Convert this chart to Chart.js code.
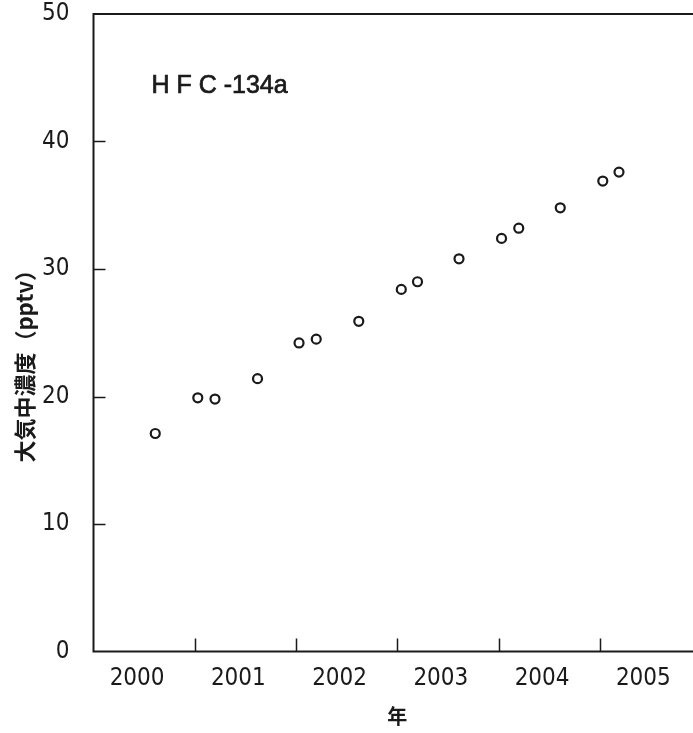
<!DOCTYPE html>
<html>
<head>
<meta charset="utf-8">
<script src="https://cdn.jsdelivr.net/npm/chart.js@4.4.1/dist/chart.umd.min.js"></script>
<style>
  html, body { margin: 0; padding: 0; background: #fff; overflow: hidden; }
  #wrap { width: 720px; height: 733px; }
</style>
</head>
<body>
<div id="wrap"><canvas id="chartHfc"></canvas></div>
<script>
// ================================
//   DATI
// ================================
const anni = [2000.61, 2001.03, 2001.20, 2001.62, 2002.03, 2002.20, 2002.62, 2003.04,
              2003.20, 2003.61, 2004.03, 2004.20, 2004.61, 2005.03, 2005.19];
const concentrazioni = [17.1, 19.9, 19.8, 21.4, 24.2, 24.5, 25.9, 28.4,
                        29.0, 30.8, 32.4, 33.2, 34.8, 36.9, 37.6];
const tickAnni = [2000, 2001, 2002, 2003, 2004, 2005];
const tickValori = [0, 10, 20, 30, 40, 50];
const titoloSerie = "H F C -134a";
const titoloY = "大気中濃度（pptv）";
const titoloX = "年";

const INK = "#1a1a1a";
const numFont = { family: "'Liberation Sans Narrow', 'DejaVu Sans Condensed', sans-serif", size: 24 };
const cjkFont = { family: "'Noto Sans CJK JP', sans-serif", size: 20, weight: "bold", lineHeight: 1.2 };

// ================================
//   CORNICE + TACCHE INTERNE + TESTI
// ================================
const framePlugin = {
  id: "frame",
  afterDraw(chart) {
    const { ctx, chartArea: a, scales } = chart;
    ctx.save();
    ctx.strokeStyle = INK;
    ctx.lineWidth = 2;
    ctx.strokeRect(a.left, a.top, a.right - a.left, a.bottom - a.top);

    ctx.beginPath();
    tickAnni.slice(1).forEach(v => {
      const x = Math.round(scales.x.getPixelForValue(v)) + 0.5;
      ctx.moveTo(x, a.bottom);
      ctx.lineTo(x, a.bottom - 13);
    });
    tickValori.slice(1, -1).forEach(v => {
      const y = Math.round(scales.y.getPixelForValue(v)) + 0.5;
      ctx.moveTo(a.left, y);
      ctx.lineTo(a.left + 12, y);
    });
    ctx.lineWidth = 1.5;
    ctx.stroke();

    // etichetta della serie
    ctx.fillStyle = INK;
    ctx.strokeStyle = INK;
    ctx.lineWidth = 0.7;
    ctx.font = "25px 'Liberation Sans', Arial, sans-serif";
    ctx.textBaseline = "alphabetic";
    ctx.fillText(titoloSerie, a.left + 58, a.top + 79);
    ctx.strokeText(titoloSerie, a.left + 58, a.top + 79);

    // titolo asse Y (ruotato)
    ctx.translate(25, (a.top + a.bottom) / 2 + 28);
    ctx.rotate(-Math.PI / 2);
    ctx.font = "bold 22px 'Noto Sans CJK JP', sans-serif";
    ctx.textAlign = "center";
    ctx.textBaseline = "middle";
    ctx.fillText(titoloY, 0, 0);
    ctx.restore();
  }
};

new Chart(document.getElementById("chartHfc"), {
  type: "scatter",
  data: {
    datasets: [{
      label: titoloSerie,
      data: anni.map((x, i) => ({ x, y: concentrazioni[i] })),
      pointRadius: 4.5,
      pointBorderWidth: 2.2,
      pointBorderColor: INK,
      pointBackgroundColor: "#fff"
    }]
  },
  options: {
    responsive: true,
    maintainAspectRatio: false,
    animation: false,
    layout: { padding: { top: 14, right: 19, left: 0, bottom: 0 } },
    plugins: { legend: { display: false }, tooltip: { enabled: false } },
    scales: {
      x: {
        type: "linear",
        min: 2000,
        max: 2006,
        afterBuildTicks: s => { s.ticks = tickAnni.map(v => ({ value: v })); },
        afterFit: s => { s.height = 81.5; s.paddingLeft = 0; s.paddingRight = 0; },
        grid: { display: false },
        border: { display: false },
        ticks: {
          autoSkip: false,
          maxRotation: 0,
          labelOffset: 43.6,
          padding: 5,
          color: INK,
          font: numFont,
          callback: v => String(v)
        },
        title: { display: true, text: titoloX, color: INK, font: cjkFont, padding: { top: 0, bottom: 5 } }
      },
      y: {
        min: 0,
        max: 50,
        afterBuildTicks: s => { s.ticks = tickValori.map(v => ({ value: v })); },
        afterFit: s => { s.width = 93.5; s.paddingTop = 0; s.paddingBottom = 0; },
        grid: { display: false },
        border: { display: false },
        ticks: { padding: 16, color: INK, font: numFont },
        title: { display: false }
      }
    }
  },
  plugins: [framePlugin]
});
</script>
</body>
</html>
